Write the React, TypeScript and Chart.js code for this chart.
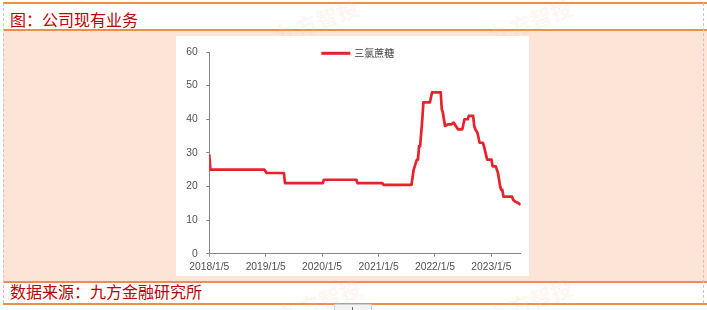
import React, { useEffect, useRef } from "react";
import { Chart, registerables } from "chart.js";

Chart.register(...registerables);

const seriesName = "三氯蔗糖";
const titleText = "图：公司现有业务";
const sourceText = "数据来源：九方金融研究所";
const watermarkText = "九方智投";

const dates: string[] = [
  "2018-01-05", "2018-01-12", "2018-12-28", "2019-01-11", "2019-05-03", "2019-05-10",
  "2020-01-10", "2020-01-17", "2020-08-14", "2020-08-21", "2021-01-29", "2021-02-05",
  "2021-08-06", "2021-08-20", "2021-08-27", "2021-09-03", "2021-09-10", "2021-09-17",
  "2021-09-24", "2021-10-01", "2021-10-15", "2021-10-22", "2021-12-03", "2021-12-17",
  "2022-02-11", "2022-02-18", "2022-02-25", "2022-03-11", "2022-04-01", "2022-04-22",
  "2022-05-06", "2022-05-20", "2022-06-03", "2022-07-01", "2022-07-15", "2022-08-05",
  "2022-08-12", "2022-09-09", "2022-09-16", "2022-09-23", "2022-10-07", "2022-10-21",
  "2022-11-11", "2022-11-18", "2022-12-09", "2023-01-06", "2023-01-13", "2023-02-03",
  "2023-02-17", "2023-03-03", "2023-03-10", "2023-03-17", "2023-03-24", "2023-05-19",
  "2023-05-26", "2023-06-09", "2023-06-30", "2023-07-14",
];

const values: number[] = [
  29.5, 25, 25, 24, 24, 21,
  21, 22, 22, 21, 21, 20.5,
  20.5, 25, 26, 27, 28, 28,
  32, 32, 40, 45, 45, 48,
  48, 43, 42, 38, 38.5, 38.5,
  39, 38, 37, 37, 40, 40,
  41, 41, 38, 37, 36, 33,
  33, 32, 28, 28, 26, 26,
  24, 20, 19, 19, 17, 17,
  16, 15.5, 15, 14.5,
];

const tickDates: string[] = ["2018-01-05", "2019-01-05", "2020-01-05", "2021-01-05", "2022-01-05", "2023-01-05"];
const tickLabels: string[] = ["2018/1/5", "2019/1/5", "2020/1/5", "2021/1/5", "2022/1/5", "2023/1/5"];
const yTicks: number[] = [0, 10, 20, 30, 40, 50, 60];

const toTs = (s: string) => {
  const [y, m, d] = s.split("-").map(Number);
  return Date.UTC(y, m - 1, d);
};

const LINE_COLOR = "#e8222b";
const AXIS_COLOR = "#868686";
const LABEL_COLOR = "#505050";

const legendPlugin = {
  id: "customLegend",
  afterDraw(chart: any) {
    const { ctx, chartArea } = chart;
    const ds = chart.data.datasets[0];
    const cx = chartArea.left + 112;
    const cy = chartArea.top + 1.3;
    ctx.save();
    ctx.strokeStyle = ds.borderColor;
    ctx.lineWidth = 3;
    ctx.beginPath();
    ctx.moveTo(cx, cy);
    ctx.lineTo(cx + 29, cy);
    ctx.stroke();
    ctx.fillStyle = "#404040";
    ctx.font = "10px 'Noto Sans CJK SC'";
    ctx.textBaseline = "middle";
    ctx.textAlign = "left";
    ctx.fillText(ds.label, cx + 33, cy);
    ctx.restore();
  },
};

function ChartBox() {
  const ref = useRef<HTMLCanvasElement | null>(null);
  useEffect(() => {
    if (!ref.current) return;
    const pts = dates.map((d, i) => ({ x: toTs(d), y: values[i] }));
    const chart = new Chart(ref.current, {
      type: "line",
      data: {
        datasets: [
          {
            label: seriesName,
            data: pts,
            borderColor: LINE_COLOR,
            borderWidth: 2.7,
            pointRadius: 0,
            tension: 0,
            borderJoinStyle: "round",
            fill: false,
          },
        ],
      },
      options: {
        animation: false,
        responsive: false,
        maintainAspectRatio: false,
        layout: { padding: { top: 16, right: 8.3, left: 0, bottom: 0 } },
        plugins: { legend: { display: false }, tooltip: { enabled: false } },
        scales: {
          x: {
            type: "linear",
            min: toTs(dates[0]),
            max: toTs(dates[dates.length - 1]),
            afterBuildTicks: (scale: any) => {
              scale.ticks = tickDates.map((d) => ({ value: toTs(d) }));
            },
            afterFit: (scale: any) => {
              scale.height = 22.3;
            },
            ticks: {
              autoSkip: false,
              maxRotation: 0,
              minRotation: 0,
              padding: 4.5,
              color: LABEL_COLOR,
              font: { family: "'Liberation Sans', Arial", size: 10.3 },
              callback: (_v: any, i: number) => tickLabels[i],
            },
            grid: {
              display: true,
              drawOnChartArea: false,
              drawTicks: true,
              tickLength: 3,
              color: AXIS_COLOR,
            },
            border: { display: true, color: AXIS_COLOR, width: 1 },
          },
          y: {
            type: "linear",
            min: yTicks[0],
            max: yTicks[yTicks.length - 1],
            afterBuildTicks: (scale: any) => {
              scale.ticks = yTicks.map((v) => ({ value: v }));
            },
            afterFit: (scale: any) => {
              scale.width = 33.3;
            },
            ticks: {
              padding: 8.5,
              color: LABEL_COLOR,
              font: { family: "'Liberation Sans', Arial", size: 10.3 },
              callback: (v: any) => String(v),
            },
            grid: {
              display: true,
              drawOnChartArea: false,
              drawTicks: true,
              tickLength: 3,
              color: AXIS_COLOR,
            },
            border: { display: true, color: AXIS_COLOR, width: 1 },
          },
        },
      } as any,
      plugins: [legendPlugin],
    });
    return () => chart.destroy();
  }, []);
  return <canvas ref={ref} width={353} height={240} style={{ display: "block", width: 353, height: 240 }} />;
}

const cjk = "'Noto Sans CJK SC', sans-serif";

function Watermark({ x, y }: { x: number; y: number }) {
  return (
    <div
      style={{
        position: "absolute",
        left: x,
        top: y,
        fontFamily: cjk,
        fontSize: 22,
        fontWeight: 700,
        color: "rgba(247, 190, 150, 0.12)",
        transform: "rotate(-20deg)",
        whiteSpace: "nowrap",
        pointerEvents: "none",
      }}
    >
      {watermarkText}
    </div>
  );
}

export default function App() {
  return (
    <div
      style={{
        position: "fixed",
        left: 0,
        top: 0,
        width: 707,
        height: 310,
        background: "#ffffff",
        overflow: "hidden",
      }}
    >
      <div style={{ position: "absolute", left: 3, top: 30, width: 704, height: 251, background: "#fce4d6" }} />
      <div style={{ position: "absolute", left: 3, top: 2, width: 704, height: 2, background: "#ef8d4f" }} />
      <div style={{ position: "absolute", left: 3, top: 29, width: 704, height: 2, background: "#ef8d4f" }} />
      <div style={{ position: "absolute", left: 3, top: 280.5, width: 704, height: 2, background: "#ef8d4f" }} />
      <div style={{ position: "absolute", left: 3, top: 302.5, width: 704, height: 2, background: "#ef8d4f" }} />
      <div style={{ position: "absolute", left: 2.5, top: 3, width: 0, height: 300, borderLeft: "1px dashed #c8c8c8" }} />
      <div style={{ position: "absolute", left: 703, top: 3, width: 0, height: 300, borderLeft: "1px dashed #c8c8c8" }} />
      <Watermark x={272} y={4} />
      <Watermark x={486} y={4} />
      <Watermark x={275} y={284} />
      <Watermark x={486} y={284} />
      <div
        style={{
          position: "absolute",
          left: 10,
          top: 8,
          fontFamily: cjk,
          fontSize: 16,
          lineHeight: "22px",
          color: "#c00000",
          whiteSpace: "nowrap",
        }}
      >
        {titleText}
      </div>
      <div style={{ position: "absolute", left: 176, top: 36, width: 353, height: 240, background: "#ffffff" }}>
        <ChartBox />
      </div>
      <div
        style={{
          position: "absolute",
          left: 10,
          top: 280,
          fontFamily: cjk,
          fontSize: 16,
          lineHeight: "22px",
          color: "#c00000",
          whiteSpace: "nowrap",
        }}
      >
        {sourceText}
      </div>
      <div
        style={{
          position: "absolute",
          left: 334,
          top: 304,
          width: 36,
          height: 10,
          background: "#f4f4f4",
          border: "1px solid #cfcfcf",
        }}
      />
      <div style={{ position: "absolute", left: 352, top: 307, width: 1, height: 4, background: "#666" }} />
    </div>
  );
}
